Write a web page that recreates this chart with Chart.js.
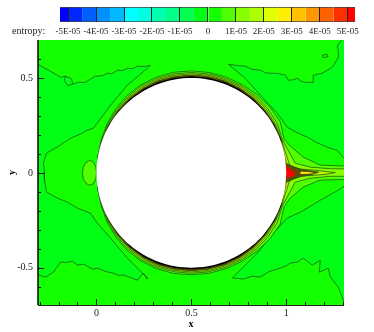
<!DOCTYPE html>
<html>
<head>
<meta charset="utf-8">
<script src="https://cdn.jsdelivr.net/npm/chart.js@4"></script>
<style>
    body { margin: 0; background: #fff; }
    #page { position: relative; width: 374px; height: 332px; overflow: hidden; }
    #mainChart, #barChart { position: absolute; left: 0; top: 0; }
    #barName { position: absolute; left: 12px; top: 25px; font: 10px 'Liberation Serif'; color: #222; }
</style>
</head>
<body>
<div id="page">
    <canvas id="mainChart" width="374" height="332"></canvas>
    <canvas id="barChart" width="374" height="40"></canvas>
    <div id="barName">entropy:</div>
</div>
<script>
// colour bar
const barEdges = [-5.29, -5, -4.5, -4, -3.5, -3, -2.5, -2, -1.5, -1, -0.5, 0, 0.5, 1, 1.5, 2, 2.5, 3, 3.5, 4, 4.5, 5, 5.26];
const barColors = ['#0000ff', '#0028ff', '#0060ff', '#0090ff', '#00b8ff', '#00ffff', '#00ffe0', '#00ffb0', '#00ff88', '#00ff50', '#00ff14',
    '#14ff00', '#50ff00', '#88ff00', '#b0ff00', '#e0ff00', '#ffee00', '#ffc000', '#ff9800', '#ff6000', '#ff3000', '#ff0000'];
const barTicks = [-5, -4, -3, -2, -1, 0, 1, 2, 3, 4, 5];
const barTickLabels = ['-5E-05', '-4E-05', '-3E-05', '-2E-05', '-1E-05', '0', '1E-05', '2E-05', '3E-05', '4E-05', '5E-05'];

// axes
const xRange = [-0.308, 1.304];
const yRange = [-0.696, 0.7];
const xLabelled = [0, 0.5, 1];
const yLabelled = [-0.5, 0, 0.5];

// contours, [x, y]
const leftBand = [[-0.4, 0.6], [-0.308, 0.572], [-0.242, 0.535], [-0.189, 0.504], [-0.163, 0.509], [-0.137, 0.488], [-0.126, 0.467], [-0.095, 0.477], [-0.058, 0.477],
    [-0.03, 0.495], [-0.005, 0.509], [0.03, 0.512], [0.058, 0.525], [0.08, 0.522], [0.111, 0.541], [0.135, 0.538], [0.163, 0.551], [0.19, 0.549], [0.216, 0.562],
    [0.25, 0.56], [0.284, 0.567], [0.268, 0.551], [0.163, 0.462], [0.074, 0.356], [-0.016, 0.235],
    [-0.05, 0.224], [-0.084, 0.204], [-0.12, 0.19], [-0.153, 0.172], [-0.2, 0.14], [-0.263, 0.104], [-0.279, 0.051], [-0.274, 0.004], [-0.274, -0.038], [-0.263, -0.102], [-0.205, -0.133], [-0.153, -0.154],
    [-0.1, -0.186], [-0.032, -0.212], [0.005, -0.265], [0.074, -0.344], [0.163, -0.449], [0.268, -0.554], [0.268, -0.559], [0.247, -0.528], [0.216, -0.565],
    [0.142, -0.538], [0.115, -0.54], [0.089, -0.528], [0.05, -0.52], [0.005, -0.502], [-0.021, -0.507], [-0.068, -0.481], [-0.1, -0.486], [-0.126, -0.465], [-0.16, -0.472], [-0.189, -0.47], [-0.226, -0.523],
    [-0.268, -0.549], [-0.308, -0.538], [-0.4, -0.5]];
const rightTopBand = [[0.695, 0.572], [0.74, 0.566], [0.784, 0.562], [0.82, 0.545], [0.863, 0.541], [0.89, 0.528], [0.916, 0.525], [0.955, 0.524], [0.995, 0.515], [1.011, 0.488], [1.035, 0.49], [1.058, 0.498], [1.08, 0.482], [1.1, 0.477], [1.142, 0.477],
    [1.142, 0.514], [1.189, 0.525], [1.242, 0.556], [1.274, 0.609], [1.274, 0.646], [1.268, 0.667], [1.289, 0.698], [1.32, 0.75], [1.4, 0.75], [1.4, 0.05], [1.304, 0.077],
    [1.268, 0.119], [1.216, 0.135], [1.16, 0.16], [1.111, 0.188], [1.05, 0.215], [1.005, 0.241], [0.953, 0.314], [0.874, 0.398], [0.784, 0.498]];
const rightBottomBand = [[0.716, -0.554], [0.774, -0.559], [0.82, -0.545], [0.863, -0.549], [0.91, -0.52], [0.968, -0.502], [1.0, -0.49], [1.021, -0.475], [1.06, -0.47], [1.089, -0.449], [1.137, -0.486], [1.179, -0.46],
    [1.174, -0.523], [1.221, -0.502], [1.232, -0.549], [1.274, -0.602], [1.304, -0.681], [1.4, -0.8], [1.4, -0.05], [1.304, -0.07], [1.274, -0.091], [1.179, -0.144],
    [1.074, -0.207], [1.005, -0.238], [0.932, -0.317], [0.847, -0.423], [0.758, -0.512]];
const leftOval = [[0, 0], [-0.003, 0.03], [-0.015, 0.055], [-0.035, 0.066], [-0.055, 0.055], [-0.07, 0.03], [-0.074, 0], [-0.07, -0.03], [-0.055, -0.055],
    [-0.035, -0.066], [-0.015, -0.055], [-0.003, -0.03]];
const smallLoopLeft = [[-0.163, 0.509], [-0.13, 0.495], [-0.126, 0.467], [-0.15, 0.46], [-0.17, 0.485]];
const smallLoopRight = [[1.19, 0.62], [1.215, 0.625], [1.22, 0.612], [1.195, 0.607]];

// rings round the cylinder: radius at each angle, then the wake behind it
const ringAngles = [170, 160, 150, 140, 130, 120, 110, 100, 90, 80, 70, 60, 50, 40, 30, 20];
const ring1 = [0.5, 0.506, 0.514, 0.522, 0.53, 0.535, 0.537, 0.538, 0.537, 0.537, 0.537, 0.537, 0.538, 0.54, 0.54, 0.52];
const ring2 = [0.5, 0.503, 0.509, 0.515, 0.522, 0.528, 0.529, 0.529, 0.529, 0.529, 0.529, 0.529, 0.528, 0.526, 0.522, 0.51];
const ring3 = [0.5, 0.501, 0.505, 0.51, 0.516, 0.52, 0.522, 0.522, 0.522, 0.522, 0.522, 0.522, 0.52, 0.517, 0.512, 0.506];
const ring4 = [0.5, 0.5, 0.503, 0.507, 0.511, 0.514, 0.516, 0.516, 0.516, 0.516, 0.516, 0.515, 0.513, 0.51, 0.507, 0.504];
const ring5 = [0.5, 0.5, 0.502, 0.504, 0.506, 0.508, 0.509, 0.509, 0.509, 0.509, 0.509, 0.508, 0.507, 0.506, 0.505, 0.504];
const wake1 = [[1.021, 0.141], [1.089, 0.083], [1.179, 0.041], [1.4, 0.032], [1.4, -0.032], [1.179, -0.038], [1.089, -0.075], [1.021, -0.133]];
const wake2 = [[1.047, 0.051], [1.126, 0.03], [1.232, 0.022], [1.4, 0.02], [1.4, -0.018], [1.232, -0.018], [1.126, -0.028], [1.047, -0.049]];
const wake3 = [[1.021, 0.03], [1.074, 0.02], [1.153, 0.014], [1.216, 0.006], [1.258, 0.002], [1.216, -0.007], [1.153, -0.012], [1.074, -0.018], [1.021, -0.028]];
const wake4 = [[1.0, 0.05], [1.04, 0.032], [1.08, 0.018], [1.13, 0.01], [1.17, 0.004], [1.13, -0.01], [1.08, -0.018], [1.04, -0.032], [1.0, -0.05]];
const wakeRed = [[1.0, 0.04], [1.02, 0.02], [1.05, -0.005], [1.03, -0.02], [1.0, -0.025]];
const wakeCore = [[1.075, 0.006], [1.12, 0.005], [1.15, 0], [1.12, -0.005], [1.075, -0.006]];

const cylinderAngles = [0, 10, 20, 30, 40, 50, 60, 70, 80, 90, 100, 110, 120, 130, 140, 150, 160, 170, 180,
    190, 200, 210, 220, 230, 240, 250, 260, 270, 280, 290, 300, 310, 320, 330, 340, 350];
const cylinderRadius = 0.5;
const cylinderCentre = [0.5, 0];

const lineColor = 'rgba(20, 70, 20, 0.85)';

function pairs(list) {
    return list.map(p => ({ x: p[0], y: p[1] }));
}

function polar(angle, radius) {
    const a = angle * Math.PI / 180;
    return { x: cylinderCentre[0] + radius * Math.cos(a), y: cylinderCentre[1] + radius * Math.sin(a) };
}

function ring(radii, wake) {
    const upper = ringAngles.map((a, i) => polar(a, radii[i]));
    const lower = ringAngles.map((a, i) => polar(-a, radii[i])).reverse();
    return upper.concat(pairs(wake), lower);
}

function shape(points, color, border, tension) {
    return {
        data: points.concat([points[0]]),
        showLine: true,
        fill: 'shape',
        backgroundColor: color,
        borderColor: border || 'transparent',
        borderWidth: border ? 0.8 : 0,
        pointRadius: 0,
        tension: tension || 0
    };
}

const layers = [
    shape(pairs([[-0.4, -0.8], [-0.4, 0.8], [1.4, 0.8], [1.4, -0.8]]), '#14ff00'),
    shape(pairs(leftBand), '#00ff14', lineColor),
    shape(pairs(rightTopBand), '#00ff14', lineColor),
    shape(pairs(rightBottomBand), '#00ff14', lineColor),
    shape(pairs(smallLoopLeft), '#00ff14', lineColor),
    shape(pairs(smallLoopRight), '#14ff00', lineColor),
    shape(pairs(leftOval), '#50ff00', lineColor),
    shape(ring(ring1, wake1), '#50ff00', lineColor),
    shape(ring(ring2, wake2), '#88ff00', lineColor),
    shape(ring(ring3, wake3), '#c0f000', lineColor),
    shape(ring(ring4, wake4), '#5a4c00', lineColor),
    shape(ring(ring5, []), '#000000'),
    shape(pairs(wakeCore), '#ffee00'),
    shape(pairs(wakeRed), '#ff0000'),
    shape(cylinderAngles.map(a => polar(a, cylinderRadius)), '#ffffff', null, 0.35)
];
layers.forEach((d, i) => { d.order = layers.length - i; });

// ticks go inward, so they are drawn here from the scales
const inwardTicks = {
    id: 'inwardTicks',
    afterDraw(chart) {
        const { ctx, chartArea, scales } = chart;
        ctx.save();
        ctx.strokeStyle = '#111';
        ctx.lineWidth = 1;
        scales.x.ticks.forEach(t => {
            const px = Math.round(scales.x.getPixelForValue(t.value)) + 0.5;
            const len = t.label === '' ? 3 : 6;
            ctx.beginPath();
            ctx.moveTo(px, chartArea.bottom);
            ctx.lineTo(px, chartArea.bottom - len);
            ctx.stroke();
        });
        scales.y.ticks.forEach(t => {
            const py = Math.round(scales.y.getPixelForValue(t.value)) + 0.5;
            const len = t.label === '' ? 3 : 6;
            ctx.beginPath();
            ctx.moveTo(chartArea.left, py);
            ctx.lineTo(chartArea.left + len, py);
            ctx.stroke();
        });
        ctx.strokeStyle = '#222';
        ctx.beginPath();
        ctx.moveTo(chartArea.left, chartArea.bottom + 0.5);
        ctx.lineTo(chartArea.right, chartArea.bottom + 0.5);
        ctx.stroke();
        ctx.strokeStyle = '#000';
        ctx.lineWidth = 1.5;
        ctx.beginPath();
        ctx.moveTo(chartArea.left, chartArea.top);
        ctx.lineTo(chartArea.left, chartArea.bottom);
        ctx.stroke();
        ctx.restore();
    }
};

function tickText(list) {
    return function (value) {
        const v = Math.round(value * 10) / 10;
        return list.includes(v) ? String(v) : '';
    };
}

const tickFont = { family: 'Liberation Serif', size: 10 };
const titleFont = { family: 'Liberation Serif', size: 10, weight: 'bold' };

new Chart(document.getElementById('mainChart'), {
    type: 'scatter',
    data: { datasets: layers },
    options: {
        responsive: false,
        animation: false,
        layout: { padding: { top: 40, right: 30, left: 0, bottom: 0 } },
        plugins: { legend: { display: false }, tooltip: { enabled: false } },
        scales: {
            x: {
                min: xRange[0],
                max: xRange[1],
                afterFit(scale) { scale.height = 27; },
                grid: { display: false, drawTicks: false },
                border: { display: false },
                title: { display: true, text: 'x', font: titleFont, color: '#000', padding: { top: 0, bottom: 2 } },
                ticks: {
                    stepSize: 0.1,
                    includeBounds: false,
                    autoSkip: false,
                    maxRotation: 0,
                    padding: 2,
                    font: tickFont,
                    color: '#222',
                    callback: tickText(xLabelled)
                }
            },
            y: {
                min: yRange[0],
                max: yRange[1],
                afterFit(scale) { scale.width = 38; },
                grid: { display: false, drawTicks: false },
                border: { display: false },
                title: { display: true, text: 'y', font: titleFont, color: '#000', padding: { top: 6, bottom: 0 } },
                ticks: {
                    stepSize: 0.1,
                    includeBounds: false,
                    autoSkip: false,
                    maxRotation: 0,
                    padding: 5,
                    font: tickFont,
                    color: '#222',
                    callback: tickText(yLabelled)
                }
            }
        }
    },
    plugins: [inwardTicks]
});

new Chart(document.getElementById('barChart'), {
    type: 'bar',
    data: {
        labels: [''],
        datasets: barColors.map((c, i) => ({
            data: [[barEdges[i], barEdges[i + 1]]],
            backgroundColor: c,
            borderColor: '#444',
            borderWidth: { top: 1, bottom: 1 },
            borderSkipped: false,
            grouped: false,
            barPercentage: 1,
            categoryPercentage: 1
        }))
    },
    options: {
        indexAxis: 'y',
        responsive: false,
        animation: false,
        layout: { padding: { top: 7, left: 60, right: 19, bottom: 0 } },
        plugins: { legend: { display: false }, tooltip: { enabled: false } },
        scales: {
            x: {
                min: barEdges[0],
                max: barEdges[barEdges.length - 1],
                afterBuildTicks(scale) { scale.ticks = barTicks.map(v => ({ value: v })); },
                afterFit(scale) { scale.height = 18; },
                grid: { drawTicks: false, color: '#222', lineWidth: 1, z: 1 },
                border: { display: false },
                ticks: {
                    autoSkip: false,
                    maxRotation: 0,
                    padding: 4,
                    font: { family: 'Liberation Serif', size: 9 },
                    color: '#222',
                    callback(value, index) { return barTickLabels[index]; }
                }
            },
            y: { display: false, grid: { display: false } }
        }
    }
});
</script>
</body>
</html>
